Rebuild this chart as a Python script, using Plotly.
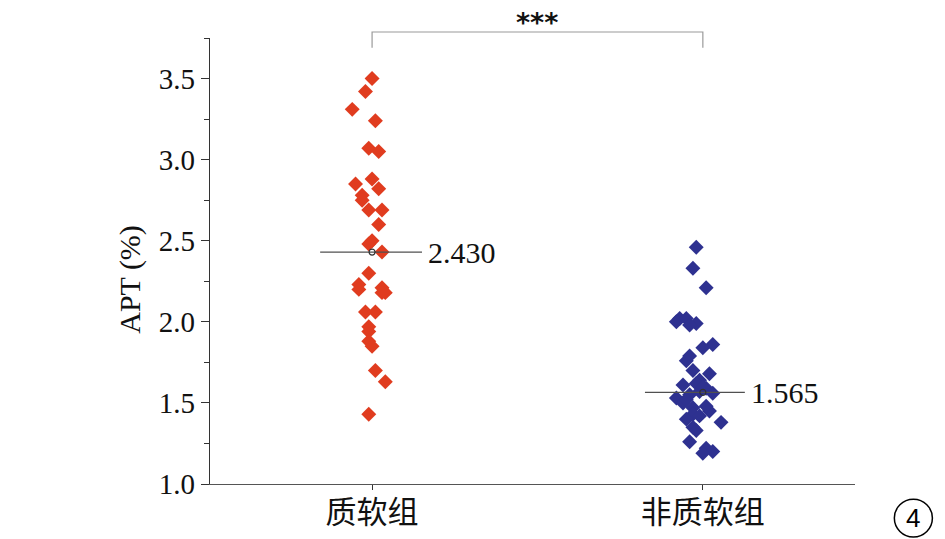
import plotly.graph_objects as go

categories = ["质软组", "非质软组"]
y_ticks = [1.0, 1.5, 2.0, 2.5, 3.0, 3.5]

soft_values = [3.50, 3.42, 3.31, 3.24, 3.07, 3.05, 2.88, 2.85, 2.82, 2.78, 2.75,
               2.69, 2.69, 2.60, 2.50, 2.48, 2.43, 2.30, 2.23, 2.21, 2.20, 2.18,
               2.18, 2.06, 2.06, 1.97, 1.94, 1.88, 1.85, 1.70, 1.63, 1.43]
soft_jitter = [0.00, -0.02, -0.06, 0.01, -0.01, 0.02, 0.00, -0.05, 0.02, -0.03, -0.03,
               -0.01, 0.03, 0.02, 0.00, -0.01, 0.03, -0.01, -0.04, 0.03, -0.04, 0.04,
               0.03, -0.02, 0.01, -0.01, -0.01, -0.01, 0.00, 0.01, 0.04, -0.01]

nonsoft_values = [2.46, 2.33, 2.21, 2.02, 2.00, 2.02, 1.99, 1.98, 1.86, 1.84, 1.79,
                  1.76, 1.70, 1.68, 1.64, 1.61, 1.62, 1.59, 1.57, 1.53, 1.55, 1.50,
                  1.47, 1.45, 1.43, 1.40, 1.38, 1.35, 1.33, 1.26, 1.22, 1.20, 1.19,
                  1.60, 1.52, 1.48, 1.42, 1.56]
nonsoft_jitter = [-0.02, -0.03, 0.01, -0.07, -0.08, -0.05, -0.02, -0.04, 0.03, 0.00, -0.04,
                  -0.05, -0.03, 0.02, -0.01, -0.06, -0.02, 0.01, -0.01, -0.08, -0.04, -0.06,
                  -0.03, 0.02, -0.03, -0.05, 0.055, -0.03, -0.02, -0.04, 0.01, 0.03, 0.00,
                  0.00, -0.05, 0.01, -0.01, 0.03]

means = [2.430, 1.565]
mean_labels = ["2.430", "1.565"]
significance = "***"

RED = "#E03C1F"
BLUE = "#2E3190"

fig = go.Figure()

fig.add_trace(go.Scatter(
    x=[1 + j for j in soft_jitter], y=soft_values, mode="markers",
    marker=dict(symbol="diamond", size=11.5, color=RED, line=dict(width=0)),
    showlegend=False, hoverinfo="y"))
fig.add_trace(go.Scatter(
    x=[2 + j for j in nonsoft_jitter], y=nonsoft_values, mode="markers",
    marker=dict(symbol="diamond", size=11.5, color=BLUE, line=dict(width=0)),
    showlegend=False, hoverinfo="y"))

# mean lines (left / right half-widths in category units)
line_left = [0.157, 0.175]
line_right = [0.151, 0.127]
for i, m in enumerate(means):
    xc = i + 1
    fig.add_trace(go.Scatter(
        x=[xc - line_left[i], xc + line_right[i]], y=[m, m], mode="lines",
        line=dict(color="#505050", width=1.2), showlegend=False, hoverinfo="skip"))
    fig.add_trace(go.Scatter(
        x=[xc], y=[m], mode="markers",
        marker=dict(symbol="circle-open", size=6, color="#333333", line=dict(width=1.2)),
        showlegend=False, hoverinfo="skip"))
    fig.add_annotation(x=xc + line_right[i], y=m, text=mean_labels[i], showarrow=False,
                       xanchor="left", yanchor="middle", xshift=4,
                       font=dict(family="Liberation Serif", size=30, color="#111111"))

# significance bracket
fig.add_shape(type="path", xref="x", yref="paper",
              path="M 1,0.978 L 1,1.0135 L 2,1.0135 L 2,0.978",
              line=dict(color="#9a9a9a", width=1.2))
fig.add_annotation(x=1.5, y=1.072, xref="x", yref="paper", text="<b>" + significance + "</b>",
                   showarrow=False, yanchor="top", borderpad=0,
                   font=dict(family="DejaVu Sans", size=27, color="#111111"))

# y axis title
fig.add_annotation(x=-0.124, y=0.458, xref="paper", yref="paper", text="APT (%)",
                   showarrow=False, textangle=-90, xanchor="center", yanchor="middle",
                   font=dict(family="Liberation Serif", size=30, color="#111111"))

# circled number
fig.add_shape(type="circle", xref="paper", yref="paper",
              x0=1.061, x1=1.120, y0=-0.119, y1=-0.034,
              line=dict(color="#000000", width=1.5))
fig.add_annotation(x=1.0905, y=-0.0765, xref="paper", yref="paper", text="4",
                   showarrow=False, xanchor="center", yanchor="middle",
                   font=dict(family="Liberation Sans", size=26, color="#000000"))

fig.update_layout(
    width=937, height=531,
    margin=dict(l=202, r=90, t=30, b=55, autoexpand=False),
    paper_bgcolor="white", plot_bgcolor="white",
    font=dict(family="Liberation Serif", color="#111111"),
)
fig.update_xaxes(
    range=[0.51, 2.46], tickvals=[1, 2], ticktext=categories,
    showline=True, linecolor="#555555", linewidth=1.2,
    ticks="outside", ticklen=5, tickcolor="#333333", tickwidth=1.2,
    showgrid=False, zeroline=False, automargin=False, ticklabelstandoff=-4,
    tickfont=dict(family="Noto Sans CJK SC", size=31, color="#111111"),
)
fig.update_yaxes(
    range=[1.0, 3.75], tickvals=y_ticks, ticktext=[f"{v:.1f}" for v in y_ticks],
    showline=True, linecolor="#333333", linewidth=1.2,
    ticks="outside", ticklen=8, tickcolor="#333333", tickwidth=1.2,
    minor=dict(dtick=0.25, tick0=1.0, ticks="outside", ticklen=5, tickcolor="#333333", tickwidth=1),
    showgrid=False, zeroline=False, automargin=False,
    tickfont=dict(family="Liberation Serif", size=29, color="#111111"),
)

fig.write_html("out.html")
